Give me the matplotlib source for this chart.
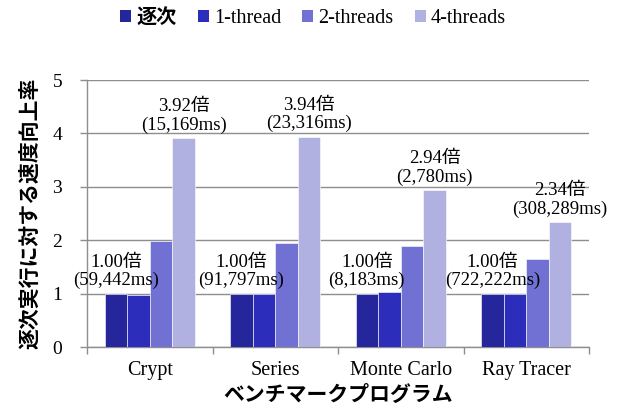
import numpy as np
import matplotlib
matplotlib.use('Agg')
import matplotlib.pyplot as plt
from matplotlib.patches import Patch

# data
programs = ['Crypt', 'Series', 'Monte Carlo', 'Ray Tracer']
series_names = ['逐次', '1-thread', '2-threads', '4-threads']
seq_speedup = [1.00, 1.00, 1.00, 1.00]
t1_speedup = [0.98, 1.00, 1.03, 1.00]
t2_speedup = [1.99, 1.95, 1.90, 1.64]
t4_speedup = [3.92, 3.94, 2.94, 2.34]
seq_labels = ['1.00倍\n(59,442ms)', '1.00倍\n(91,797ms)', '1.00倍\n(8,183ms)', '1.00倍\n(722,222ms)']
t4_labels = ['3.92倍\n(15,169ms)', '3.94倍\n(23,316ms)', '2.94倍\n(2,780ms)', '2.34倍\n(308,289ms)']

colors = ['#25259c', '#2d2dbb', '#7171d3', '#b1b1e1']
serif = ['Liberation Serif', 'Noto Sans CJK JP']
gothic = 'Noto Sans CJK JP'
grid_c = '#8e8e8e'

plt.rcParams['font.family'] = serif

fig = plt.figure(figsize=(6.2, 4.05), dpi=100)
ax = fig.add_axes([87/620, 1 - 347/405, 502/620, 267/405])

x = np.arange(len(programs))
w = 0.18
all_vals = [seq_speedup, t1_speedup, t2_speedup, t4_speedup]
for i, vals in enumerate(all_vals):
    ax.bar(x + (i - 1.5) * w, vals, w, color=colors[i], edgecolor='white',
           linewidth=0.4, zorder=3)

# 倍率ラベル
for i in range(len(programs)):
    ax.annotate(seq_labels[i], (x[i] - 1.5 * w, seq_speedup[i]), xytext=(0, 3),
                textcoords='offset points', ha='center', va='bottom',
                fontsize=13.5, linespacing=1.1, zorder=4)
    ax.annotate(t4_labels[i], (x[i] + 1.5 * w, t4_speedup[i]), xytext=(0, 3),
                textcoords='offset points', ha='center', va='bottom',
                fontsize=13.5, linespacing=1.1, zorder=4)

ax.set_xlim(-0.5, len(programs) - 0.5)
ax.set_ylim(0, 5)
ax.set_yticks(range(6))
ax.yaxis.grid(True, color=grid_c, linewidth=1, zorder=0)
ax.set_axisbelow(True)

ax.set_xticks(x)
ax.set_xticklabels(programs)
ax.set_xticks(np.arange(-0.5, len(programs)), minor=True)
ax.tick_params(axis='x', which='major', length=0, pad=10, labelsize=14.5)
ax.tick_params(axis='x', which='minor', length=5, color=grid_c, width=1)
ax.tick_params(axis='y', length=5, color=grid_c, width=1, pad=13, labelsize=14)

for s in ['top', 'right']:
    ax.spines[s].set_visible(False)
for s in ['left', 'bottom']:
    ax.spines[s].set_color(grid_c)
    ax.spines[s].set_linewidth(1)

ax.text(-57/502, 0.5, '逐次実行に対する速度向上率', transform=ax.transAxes,
        rotation=90, ha='center', va='center', fontsize=15,
        fontweight='bold', family=gothic)
ax.text(0.5, -47/267, 'ベンチマークプログラム', transform=ax.transAxes,
        ha='center', va='center', fontsize=15, fontweight='bold',
        family=gothic)

handles = [Patch(facecolor=c, edgecolor='none') for c in colors]
leg = fig.legend(handles, series_names, loc='center', ncol=4,
                 bbox_to_anchor=(313/620, 1 - 17/405), frameon=False,
                 fontsize=14.5, handlelength=0.55, handleheight=0.55,
                 handletextpad=0.25, columnspacing=1.05)
leg.get_texts()[0].set_family(gothic)
leg.get_texts()[0].set_fontweight('bold')

fig.savefig('out.png', dpi=100)
